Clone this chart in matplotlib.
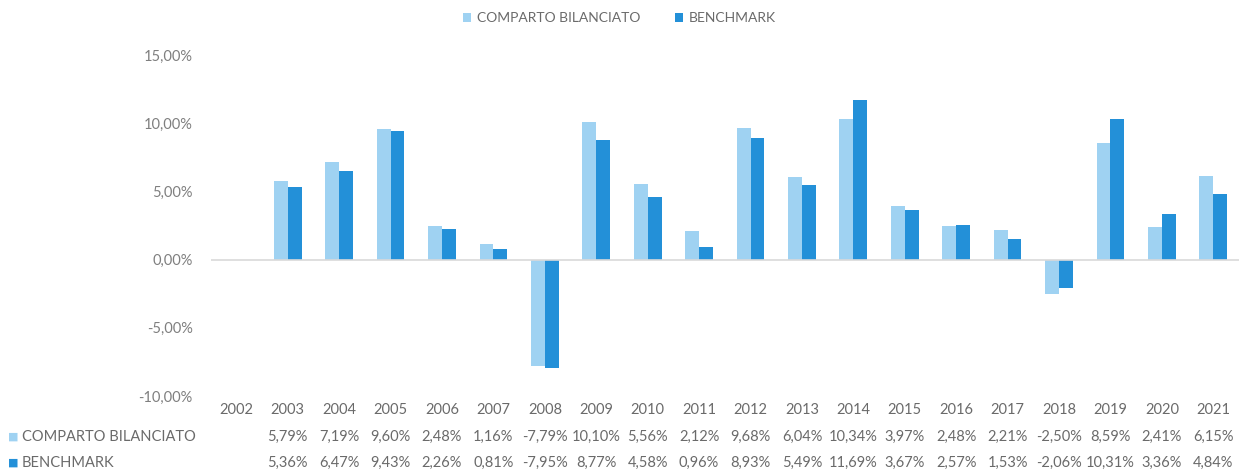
import matplotlib.pyplot as plt
import matplotlib.transforms as mtransforms
import numpy as np

plt.rcParams['font.family'] = ['Lato', 'DejaVu Sans']

years = [str(y) for y in range(2002, 2022)]
comparto = [np.nan, 5.79, 7.19, 9.60, 2.48, 1.16, -7.79, 10.10, 5.56, 2.12,
            9.68, 6.04, 10.34, 3.97, 2.48, 2.21, -2.50, 8.59, 2.41, 6.15]
benchmark = [np.nan, 5.36, 6.47, 9.43, 2.26, 0.81, -7.95, 8.77, 4.58, 0.96,
             8.93, 5.49, 11.69, 3.67, 2.57, 1.53, -2.06, 10.31, 3.36, 4.84]
series_names = ['COMPARTO BILANCIATO', 'BENCHMARK']
yticks = [-10, -5, 0, 5, 10, 15]

light = '#9fd2f2'
dark = '#2390d8'
grey = '#6a6a6a'


def fmt(v):
    if np.isnan(v):
        return ''
    return ('%.2f%%' % v).replace('.', ',')


fig = plt.figure(figsize=(12.39, 4.72), dpi=100)
ax = fig.add_axes([0.170, 0.161, 0.830, 0.722])

x = np.arange(len(years))
w = 0.27
ax.bar(x - w / 2, comparto, w, color=light, label=series_names[0])
ax.bar(x + w / 2, benchmark, w, color=dark, label=series_names[1])

ax.set_xlim(-0.5, len(years) - 0.5)
ax.set_ylim(-10, 15)
ax.set_yticks(yticks)
ax.set_yticklabels([('%.2f%%' % t).replace('.', ',') for t in yticks],
                   color='#7f7f7f', fontsize=10.5)
ax.tick_params(axis='y', length=0, pad=13)
ax.set_xticks([])
for s in ax.spines.values():
    s.set_visible(False)
ax.axhline(0, color='#d9d9d9', lw=1.2)

# data table under the chart
trans = mtransforms.blended_transform_factory(ax.transData, fig.transFigure)
for i, yr in enumerate(years):
    ax.text(i, 1 - 410 / 472, yr, transform=trans, ha='center', va='center',
            fontsize=10.5, color=grey)
    ax.text(i, 1 - 437 / 472, fmt(comparto[i]), transform=trans, ha='center',
            va='center', fontsize=10.5, color=grey)
    ax.text(i, 1 - 463 / 472, fmt(benchmark[i]), transform=trans, ha='center',
            va='center', fontsize=10.5, color=grey)

for row_y, name, col in [(437, series_names[0], light), (463, series_names[1], dark)]:
    fig.text(8 / 1239, 1 - row_y / 472, '\u25a0', color=col, fontsize=8,
             ha='left', va='center', family='DejaVu Sans')
    fig.text(22 / 1239, 1 - row_y / 472, name, color=grey, fontsize=10.5,
             ha='left', va='center')

leg = fig.legend(loc='center', bbox_to_anchor=(0.5, 1 - 18 / 472), ncol=2,
                 frameon=False, fontsize=10, handlelength=0.6, handleheight=0.6,
                 columnspacing=2.5, handletextpad=0.4)
for t in leg.get_texts():
    t.set_color(grey)

fig.savefig('out.png', dpi=100)
